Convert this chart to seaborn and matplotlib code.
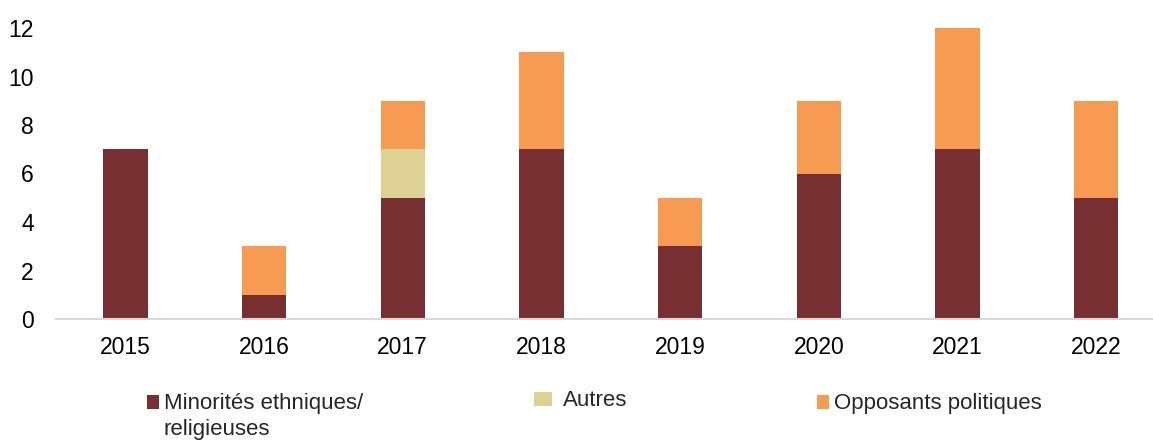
import pandas as pd
import numpy as np
import seaborn as sns
import matplotlib.pyplot as plt

# data
years = ['2015', '2016', '2017', '2018', '2019', '2020', '2021', '2022']
minorites = [7, 1, 5, 7, 3, 6, 7, 5]
autres = [0, 0, 2, 0, 0, 0, 0, 0]
opposants = [0, 2, 2, 4, 2, 3, 5, 4]
labels = ['Minorités ethniques/', 'Autres', 'Opposants politiques']
label_line2 = 'religieuses'
colors = ['#772F32', '#DDD293', '#F79B53']

df = pd.DataFrame({'year': years, 'minorites': minorites, 'autres': autres, 'opposants': opposants})
# cumulative heights so the bars can be layered from the top down
df['lvl1'] = df['minorites']
df['lvl2'] = df['lvl1'] + df['autres']
df['lvl3'] = df['lvl2'] + df['opposants']

sns.set_style('white')
plt.rcParams['font.family'] = ['Liberation Sans', 'DejaVu Sans']

fig = plt.figure(figsize=(11.53, 4.41), dpi=100)
ax = fig.add_axes([56 / 1153, 122 / 441, 1097 / 1153, 291 / 441])

sns.barplot(data=df, x='year', y='lvl3', color=colors[2], saturation=1, width=0.32, label=labels[2], linewidth=0, ax=ax)
sns.barplot(data=df, x='year', y='lvl2', color=colors[1], saturation=1, width=0.32, label=labels[1], linewidth=0, ax=ax)
sns.barplot(data=df, x='year', y='lvl1', color=colors[0], saturation=1, width=0.32, label=labels[0], linewidth=0, ax=ax)
if ax.get_legend() is not None:
    ax.get_legend().remove()

ax.set_ylim(0, 12)
ax.set_xlim(-0.5, 7.41)
ax.set_yticks(np.arange(0, 13, 2))
ax.set_xlabel('')
ax.set_ylabel('')
ax.tick_params(axis='both', length=0, labelsize=16.5, colors='black')
ax.tick_params(axis='y', pad=16)
ax.tick_params(axis='x', pad=12)
for side in ['left', 'right', 'top']:
    ax.spines[side].set_visible(False)
ax.spines['bottom'].set_color('#D9D9D9')
ax.spines['bottom'].set_linewidth(1.5)

# one small legend per entry, placed where the reference has them
handles, labs = ax.get_legend_handles_labels()
marker_x = [147, 534, 817]
center_y = [404, 401, 404]
hlen = [0.55, 0.8, 0.55]
hpad = [0.2, 0.5, 0.2]
legs = []
for lab, mx, cy, hl, hp in zip(labels, marker_x, center_y, hlen, hpad):
    h = handles[labs.index(lab)]
    leg = fig.legend([h], [lab], loc='center left', bbox_to_anchor=(mx / 1153, 1 - cy / 441),
                     frameon=False, fontsize=16, handlelength=hl, handleheight=0.58,
                     handletextpad=hp, borderaxespad=0, borderpad=0)
    legs.append(leg)

# second line of the first legend label, under its first line
fig.canvas.draw()
bb = legs[0].get_texts()[0].get_window_extent()
fig.text(bb.x0 / 1153, (bb.y0 - 26) / 441, label_line2, fontsize=16, va='bottom', ha='left')

fig.savefig('out.png', dpi=100)
